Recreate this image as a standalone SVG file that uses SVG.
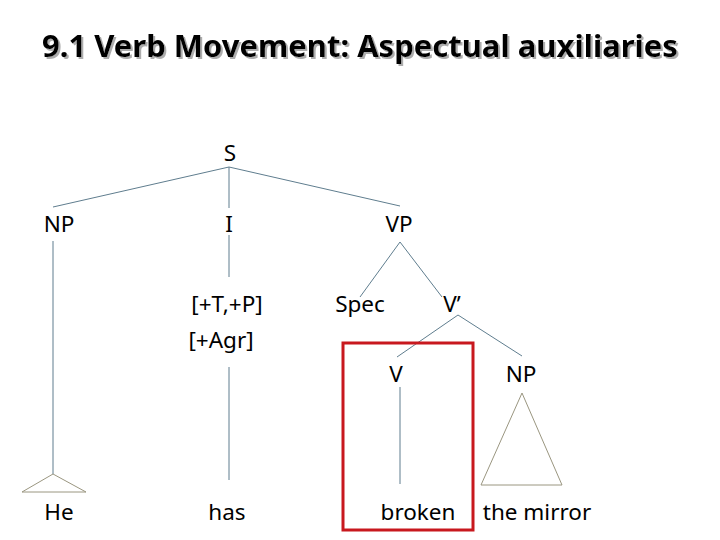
<svg xmlns="http://www.w3.org/2000/svg" width="720" height="540" viewBox="0 0 720 540">
<defs>
<filter id="sh" x="-5%" y="-30%" width="110%" height="160%">
<feDropShadow dx="2" dy="2" stdDeviation="0.6" flood-color="#999" flood-opacity="0.8"/>
</filter>
</defs>
<style>
.t{font-family:"Noto Sans","Open Sans",sans-serif;font-size:22.5px;fill:#000;text-anchor:middle}
.ttl{font-family:"Noto Sans","Open Sans",sans-serif;font-size:31px;font-weight:bold;text-anchor:middle;fill:#000}
.e{stroke:#5f7d8e;stroke-width:1;fill:none}
.tri{stroke:#9a9680;stroke-width:1;fill:none}
</style>
<rect width="720" height="540" fill="#fff"/>
<g id="title">
<text class="ttl" x="360" y="57" filter="url(#sh)">9.1 Verb Movement: Aspectual auxiliaries</text>
</g>
<g id="connectors">
<line class="e" x1="229" y1="167" x2="53" y2="207"/>
<line class="e" x1="229" y1="167" x2="229" y2="208"/>
<line class="e" x1="229" y1="167" x2="400" y2="206"/>
<line class="e" x1="53" y1="241" x2="53" y2="474"/>
<polygon class="tri" points="53,474 22,492 86,492"/>
<line class="e" x1="229" y1="235" x2="229" y2="277"/>
<line class="e" x1="229" y1="367" x2="229" y2="480"/>
<line class="e" x1="400" y1="242" x2="360" y2="297"/>
<line class="e" x1="400" y1="242" x2="442" y2="297"/>
<line class="e" x1="458" y1="315" x2="397" y2="357"/>
<line class="e" x1="458" y1="315" x2="522" y2="356"/>
<line class="e" x1="400" y1="387" x2="400" y2="484"/>
<polygon class="tri" points="522,393 481,485 562,485"/>
</g>
<g id="S"><text class="t" x="230" y="161">S</text></g>
<g id="NP1"><text class="t" x="59" y="232">NP</text></g>
<g id="I"><text class="t" x="229" y="232">I</text></g>
<g id="VP"><text class="t" x="399" y="232">VP</text></g>
<g id="features"><text class="t" x="227" y="312">[+T,+P]</text><text class="t" x="221" y="348">[+Agr]</text></g>
<g id="Spec"><text class="t" x="360" y="312">Spec</text></g>
<g id="Vbar"><text class="t" x="452" y="312">V’</text></g>
<g id="V"><text class="t" x="396" y="382">V</text></g>
<g id="NP2"><text class="t" x="521" y="382">NP</text></g>
<g id="He"><text class="t" x="59" y="520">He</text></g>
<g id="has"><text class="t" x="227" y="520">has</text></g>
<g id="broken"><text class="t" x="418" y="520">broken</text></g>
<g id="mirror"><text class="t" x="537" y="520">the mirror</text></g>
<g id="box"><rect x="343" y="343" width="130" height="187" fill="none" stroke="#c8181e" stroke-width="3"/></g>
</svg>
